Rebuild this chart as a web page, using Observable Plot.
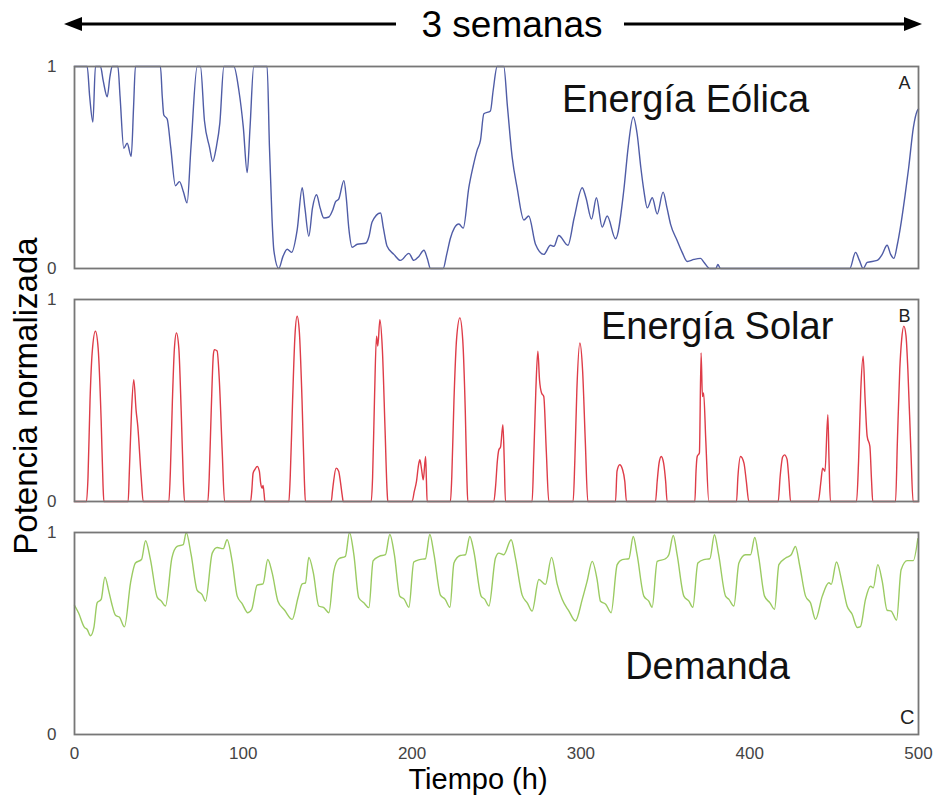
<!DOCTYPE html>
<html>
<head>
<meta charset="utf-8">
<script src="https://cdn.jsdelivr.net/npm/d3@7"></script>
<script src="https://cdn.jsdelivr.net/npm/@observablehq/plot@0.6"></script>
<style>
  html, body { margin: 0; padding: 0; background: #fff; }
  body { width: 936px; height: 801px; overflow: hidden; font-family: "Liberation Sans", Arial, sans-serif; }
  #header { display: block; }
</style>
</head>
<body>
<svg id="header" width="936" height="50"></svg>
<div id="chart"></div>
<script>
// ---- data ----
const headerText = "3 semanas";
const yLabel = "Potencia normalizada";
const xLabel = "Tiempo (h)";
const panels = ["A", "B", "C"];
const panelColors = ["#4f5ca6", "#de3c48", "#9bcb62"];
const panelNames = ["Energía Eólica", "Energía Solar", "Demanda"];
const nameHours = [362, 380.7, 375];
const nameValues = [0.777, 0.802, 0.276];
const xTicks = [0, 100, 200, 300, 400, 500];
const yTicks = [0, 1];

// [hora, potencia normalizada]
const eolica = [[0,1],[7.5,1],[9,0.85],[10.9,0.725],[12.4,1],[15.4,1],[17,0.93],[19.4,0.85],[21,0.95],[22.3,1],[25.7,1],[27,0.85],[29.2,0.595],[31.2,0.62],[33.6,0.555],[35,0.8],[36.1,1],[50.9,1],[52,0.85],[52.9,0.76],[54.9,0.74],[57,0.6],[59.8,0.41],[62.2,0.43],[64.5,0.38],[66.7,0.325],[69,0.6],[72.7,1],[74.6,1],[77,0.73],[80,0.6],[81.9,0.53],[84,0.6],[86.1,0.72],[88.5,1],[94.4,1],[97.4,0.88],[100,0.7],[102.3,0.475],[104,0.7],[106.2,1],[114.1,1],[115.5,0.6],[117,0.25],[118.1,0.09],[121,0],[123.5,0.06],[126,0.095],[128.6,0.08],[131.9,0.19],[134.9,0.40],[136.5,0.3],[138.8,0.16],[141,0.3],[143.4,0.365],[145.5,0.3],[147.7,0.25],[150.7,0.255],[153,0.29],[154.6,0.33],[156.6,0.345],[159.6,0.435],[161,0.35],[162.5,0.2],[164.5,0.105],[167.5,0.12],[172.4,0.125],[174.5,0.16],[176.3,0.23],[181.3,0.275],[183,0.2],[185.2,0.11],[189.2,0.07],[193.1,0.04],[198.1,0.075],[201,0.04],[204,0.06],[207,0.09],[209,0.05],[210.9,0],[218.4,0],[220.5,0.07],[222.7,0.15],[225,0.2],[227.7,0.22],[230.3,0.2],[233.6,0.4],[236,0.5],[238.5,0.585],[240.5,0.634],[242.5,0.766],[246.4,0.78],[248,0.88],[250.4,1],[254.3,1],[256.5,0.8],[259.3,0.55],[262.2,0.40],[266.2,0.24],[269.1,0.26],[273.1,0.12],[278,0.07],[282,0.115],[284,0.11],[286.9,0.163],[292.3,0.115],[296,0.25],[300.8,0.40],[303,0.35],[306.3,0.245],[309.2,0.35],[312.6,0.205],[315.6,0.26],[320.5,0.147],[325.4,0.386],[328,0.6],[331,0.75],[333.3,0.667],[335.5,0.5],[337.3,0.386],[339.3,0.30],[342.3,0.35],[345.2,0.27],[348.7,0.378],[351,0.3],[353.1,0.22],[357,0.139],[360,0.08],[363,0.035],[367,0.045],[370.9,0.05],[373,0.03],[376.4,0],[380,0],[381.1,0.02],[382.7,0],[459.3,0],[462.7,0.08],[465,0.04],[467.2,0],[469.6,0.03],[475.5,0.04],[478.5,0.07],[481.4,0.115],[483.5,0.07],[485.4,0.05],[487.5,0.12],[489.3,0.205],[492,0.36],[494.2,0.50],[497,0.7],[499.2,0.78],[500,0.79]];

const solar = [[0,0],
[7.1,0],[8,0.12],[9.2,0.5],[10.5,0.74],[12.4,0.843],[14,0.76],[15.8,0.4],[16.9,0.08],[17.4,0],
[31.8,0],[32.5,0.15],[33.8,0.45],[35.1,0.603],[36.5,0.45],[37.5,0.372],[39.5,0.12],[40.7,0],
[55.9,0],[56.8,0.15],[58,0.5],[59.2,0.76],[60.4,0.835],[61.8,0.76],[63.2,0.45],[64.5,0.1],[65.2,0],
[79,0],[79.8,0.12],[81,0.45],[82.3,0.73],[82.9,0.752],[84.5,0.745],[85.8,0.6],[87.5,0.25],[88.9,0],
[104.3,0],[105,0.05],[105.8,0.14],[107,0.16],[108.2,0.174],[109.5,0.15],[110.3,0.09],[111.2,0.066],[111.7,0.08],[112.3,0.04],[112.8,0],
[127,0],[127.8,0.12],[129.2,0.5],[130.6,0.82],[131.9,0.917],[133.2,0.84],[134.8,0.5],[136.2,0.1],[136.8,0],
[152.1,0],[152.8,0.05],[153.5,0.1],[155,0.165],[156.5,0.15],[157.5,0.1],[158.6,0.03],[159.2,0],
[175.8,0],[176.6,0.12],[177.7,0.5],[178.9,0.818],[179.7,0.77],[180.9,0.9],[182.4,0.75],[184,0.35],[185.2,0.05],[185.6,0],
[200,0],[201.3,0.05],[202.6,0.1],[203.8,0.18],[204.6,0.207],[205.6,0.16],[206.6,0.107],[208,0.223],[208.5,0.1],[208.9,0],
[222.7,0],[223.5,0.12],[224.8,0.5],[226.4,0.81],[228.3,0.909],[230,0.8],[231.5,0.45],[232.5,0.1],[233,0],
[248.4,0],[249.5,0.08],[250.5,0.2],[251.4,0.256],[252.4,0.27],[253.8,0.38],[254.6,0.2],[255.3,0],
[271.1,0],[272,0.2],[273.3,0.55],[274.5,0.744],[275.5,0.6],[276.7,0.537],[278,0.52],[279.5,0.25],[281,0],
[295.4,0],[296.4,0.2],[297.6,0.55],[299.4,0.785],[301,0.65],[302.6,0.3],[304.1,0],
[320.5,0],[321.4,0.15],[323,0.182],[324.6,0.16],[326,0.1],[327,0],
[344.2,0],[345.2,0.1],[346.3,0.19],[347.6,0.223],[349,0.19],[350.2,0.1],[351.1,0],
[367.5,0],[368.2,0.15],[368.9,0.223],[370.2,0.24],[371.2,0.736],[372,0.52],[372.7,0.537],[374,0.3],[375.8,0],
[392.2,0],[393,0.12],[394.6,0.223],[396.6,0.19],[398,0.1],[399.5,0],
[416.9,0],[418,0.12],[419.5,0.22],[420.6,0.231],[422.1,0.21],[423.3,0.1],[424.2,0],
[440.6,0],[442.2,0.1],[443.2,0.165],[444.6,0.15],[446.3,0.43],[447,0.2],[447.8,0],
[463.3,0],[464.5,0.2],[465.8,0.55],[467.2,0.719],[468.4,0.5],[469.6,0.322],[471.2,0.273],[472.2,0.1],[472.9,0],
[486.4,0],[487.5,0.3],[488.9,0.653],[490,0.8],[491.3,0.868],[492.6,0.82],[493.7,0.653],[495.5,0.25],[496.8,0],
[500,0]];

const demanda = [[0,0.64],[2.5,0.6],[5.9,0.53],[7.5,0.52],[9.5,0.489],[11.5,0.53],[13.4,0.652],[15.8,0.669],[18,0.779],[20.3,0.71],[22,0.65],[24.3,0.59],[26.7,0.58],[29.6,0.533],[33.2,0.751],[36.1,0.849],[39.7,0.866],[42.1,0.959],[45,0.866],[49,0.68],[51.5,0.66],[53.9,0.636],[57.7,0.874],[60.8,0.931],[64.4,0.94],[66.2,1.0],[69.1,0.89],[72.7,0.713],[75.6,0.693],[77.6,0.66],[81.6,0.898],[84.5,0.926],[88.1,0.92],[90.4,0.964],[93.4,0.857],[96.4,0.685],[99.3,0.648],[102.7,0.603],[105,0.62],[108.2,0.739],[111.7,0.746],[114.5,0.866],[117.1,0.8],[120.5,0.66],[124.5,0.615],[129,0.57],[132.4,0.677],[134.9,0.746],[136.8,0.75],[138.8,0.877],[141.5,0.8],[144.7,0.636],[147.7,0.628],[150.7,0.603],[153.6,0.808],[156.6,0.87],[160.5,0.882],[162.9,1.0],[165.5,0.89],[168.4,0.677],[171.4,0.652],[174.4,0.628],[176.9,0.86],[180.5,0.882],[184.2,0.89],[186.8,0.99],[189.5,0.89],[192.7,0.685],[195.4,0.669],[198.1,0.63],[201,0.854],[204.5,0.866],[207.9,0.87],[210.5,0.99],[213,0.89],[216.8,0.69],[219.6,0.669],[222.4,0.63],[224.8,0.849],[228.5,0.886],[231.6,0.89],[234.2,0.98],[236.6,0.906],[240.9,0.685],[243,0.67],[245.5,0.636],[249.4,0.874],[251.4,0.898],[254.3,0.89],[258.7,0.964],[261.2,0.874],[265.2,0.69],[268.2,0.652],[271.1,0.611],[275.1,0.767],[279,0.743],[282.6,0.877],[286,0.743],[288.9,0.669],[292.9,0.611],[296.8,0.562],[300.8,0.669],[303.7,0.759],[306.7,0.857],[309.6,0.767],[311.6,0.66],[314.8,0.644],[317.9,0.603],[321.5,0.841],[324.5,0.866],[328.4,0.87],[331,0.98],[333.3,0.89],[337.3,0.685],[340.2,0.66],[342.2,0.63],[345.2,0.857],[350.1,0.87],[352.1,0.89],[354.7,0.985],[357,0.89],[361,0.685],[364,0.66],[366.3,0.63],[369.3,0.849],[372.8,0.866],[376.4,0.87],[379.1,0.989],[381.6,0.89],[385.7,0.685],[387.7,0.669],[390.6,0.636],[393.6,0.849],[397.5,0.89],[400.5,0.89],[403,0.975],[405.4,0.874],[408.8,0.685],[412,0.652],[414.7,0.62],[417.3,0.841],[421.3,0.874],[424.6,0.89],[427.1,0.931],[429.7,0.833],[433.1,0.685],[436,0.652],[439,0.57],[443,0.685],[446.9,0.751],[448.3,0.743],[451.4,0.854],[454.7,0.751],[457.7,0.636],[460.7,0.595],[463.7,0.53],[465.6,0.534],[468.6,0.669],[471.6,0.734],[473.2,0.726],[475.9,0.841],[478.5,0.759],[481.4,0.615],[483.8,0.611],[487,0.566],[489.7,0.816],[493.3,0.861],[496.9,0.861],[499.6,0.969]];

// ---- build tables ----
const series = [eolica, solar, demanda];
const rows = [];
series.forEach((s, i) => s.forEach(([h, v]) => rows.push({panel: panels[i], h, v})));
const names = panels.map((p, i) => ({panel: p, h: nameHours[i], v: nameValues[i], label: panelNames[i]}));
const lettersTop = [{panel: "A", t: "A"}, {panel: "B", t: "B"}];
const lettersBottom = [{panel: "C", t: "C"}];

// ---- header ----
const FONT = '"Liberation Sans", Arial, sans-serif';
const hdr = d3.select("#header");
hdr.append("line").attr("x1", 78).attr("x2", 396).attr("y1", 24).attr("y2", 24).attr("stroke", "#000").attr("stroke-width", 3);
hdr.append("polygon").attr("points", "64,24 82,17 82,31").attr("fill", "#000");
hdr.append("line").attr("x1", 624).attr("x2", 908).attr("y1", 24).attr("y2", 24).attr("stroke", "#000").attr("stroke-width", 3);
hdr.append("polygon").attr("points", "922,24 904,17 904,31").attr("fill", "#000");
hdr.append("text").attr("x", 512).attr("y", 37).attr("text-anchor", "middle")
  .style("font-family", FONT).style("font-size", "37px").attr("fill", "#000").text(headerText);

// ---- chart ----
const chart = Plot.plot({
  width: 936,
  height: 751,
  marginTop: 16,
  marginBottom: 66,
  marginLeft: 74,
  marginRight: 18,
  style: {fontFamily: FONT, background: "#fff", overflow: "visible"},
  x: {domain: [0, 500]},
  y: {domain: [0, 1]},
  fy: {domain: panels, axis: null, paddingInner: 0.133, paddingOuter: 0},
  color: {domain: panels, range: panelColors},
  marks: [
    Plot.line(rows, {x: "h", y: "v", fy: "panel", z: "panel", stroke: "panel", curve: "monotone-x", strokeWidth: 1.4}),
    Plot.frame({stroke: "#777", strokeWidth: 1.8}),
    Plot.axisY({ticks: yTicks, tickSize: 0, tickPadding: 18, fontSize: 17, color: "#444", label: null, tickFormat: d => String(d)}),
    Plot.axisX({ticks: xTicks, tickSize: 0, tickPadding: 12, fontSize: 17, color: "#444", label: null, tickFormat: d => String(d)}),
    Plot.text(names, {x: "h", y: "v", fy: "panel", text: "label", fontSize: 38, textAnchor: "middle", lineAnchor: "bottom", fill: "#111"}),
    Plot.text(lettersTop, {fy: "panel", text: "t", frameAnchor: "top-right", dx: -8, dy: 10, fontSize: 18, fill: "#222"}),
    Plot.text(lettersBottom, {fy: "panel", text: "t", frameAnchor: "bottom-right", dx: -4, dy: -11, fontSize: 20, fill: "#222"})
  ]
});
document.getElementById("chart").appendChild(chart);

const svg = d3.select(chart.tagName.toLowerCase() === "svg" ? chart : chart.querySelector("svg"));
svg.append("text")
  .attr("transform", "translate(25,346) rotate(-90)")
  .attr("text-anchor", "middle").attr("dominant-baseline", "central")
  .style("font-family", FONT).style("font-size", "33px").attr("fill", "#000")
  .text(yLabel);
svg.append("text")
  .attr("x", 478).attr("y", 739).attr("text-anchor", "middle")
  .style("font-family", FONT).style("font-size", "29px").attr("fill", "#000")
  .text(xLabel);
</script>
</body>
</html>
